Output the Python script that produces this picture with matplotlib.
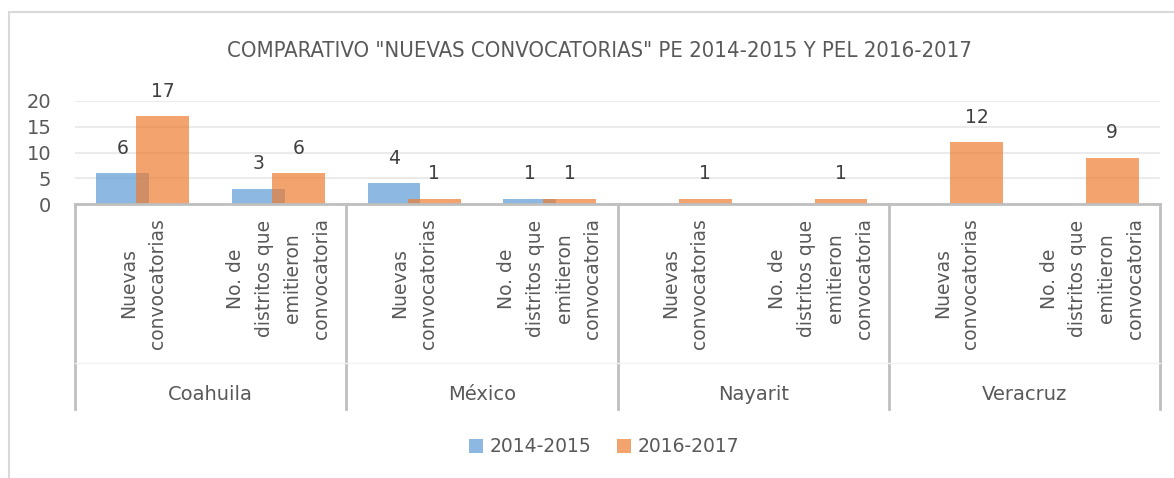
"""Comparativo nuevas convocatorias PE 2014-2015 y PEL 2016-2017"""

import numpy as np
import matplotlib
matplotlib.use("Agg")
import matplotlib.pyplot as plt
from matplotlib.patches import Rectangle, Patch
from matplotlib.lines import Line2D
from matplotlib.transforms import blended_transform_factory

groups = ["Coahuila", "México", "Nayarit", "Veracruz"]
subcats = ["Nuevas\nconvocatorias", "No. de\ndistritos que\nemitieron\nconvocatoria"]
serie_2014 = [6, 3, 4, 1, np.nan, np.nan, np.nan, np.nan]
serie_2016 = [17, 6, 1, 1, 1, 1, 12, 9]
series_names = ["2014-2015", "2016-2017"]
title = 'COMPARATIVO "NUEVAS CONVOCATORIAS" PE 2014-2015 Y PEL 2016-2017'

BLUE = "#5B9BD5"
ORANGE = "#ED7D31"
GRAY = "#595959"
LINE = "#BFBFBF"


def main():
    plt.rcParams["font.family"] = ["DejaVu Sans"]
    fig = plt.figure(figsize=(11.74, 4.78), dpi=100)
    W, H = 1174, 478

    def fx(px):
        return px / W

    def fy(py):
        return 1 - py / H

    ax = fig.add_axes([fx(75), fy(204), fx(1160) - fx(75), fy(101) - fy(204)])

    n = len(groups) * len(subcats)
    x = np.arange(n)
    width = 0.39
    off = 0.148
    b1 = ax.bar(x - off, serie_2014, width, color=BLUE, alpha=0.7, zorder=3)
    b2 = ax.bar(x + off, serie_2016, width, color=ORANGE, alpha=0.7, zorder=4)

    for bars, vals in ((b1, serie_2014), (b2, serie_2016)):
        for rect, v in zip(bars, vals):
            if np.isnan(v):
                continue
            ax.annotate(f"{int(v)}", (rect.get_x() + rect.get_width() / 2, v),
                        xytext=(0, 18), textcoords="offset points",
                        ha="center", va="center", fontsize=13.5, color="#404040")

    ax.set_xlim(-0.5, n - 0.5)
    ax.set_ylim(0, 20)
    ax.set_yticks([0, 5, 10, 15, 20])
    ax.tick_params(axis="y", length=0, pad=17, labelsize=14, labelcolor=GRAY)
    ax.set_xticks([])
    for s in ["top", "right", "left"]:
        ax.spines[s].set_visible(False)
    ax.spines["bottom"].set_color(LINE)
    ax.spines["bottom"].set_linewidth(2)
    ax.spines["bottom"].set_zorder(5)
    ax.yaxis.grid(True, color="#EBEBEB", linewidth=1.5, zorder=0)
    ax.set_axisbelow(True)

    # multi-level category axis
    tr = blended_transform_factory(ax.transData, fig.transFigure)
    for b in np.arange(-0.5, n, 2):
        ax.add_line(Line2D([b, b], [fy(204), fy(409)], transform=tr,
                           color=LINE, linewidth=2, clip_on=False))
    ax.add_line(Line2D([-0.5, n - 0.5], [fy(363), fy(363)], transform=tr,
                       color="#F2F2F2", linewidth=1, clip_on=False))
    for i in range(n):
        ax.text(i, fy(218), subcats[i % 2], transform=tr, rotation=90,
                ha="center", va="top", multialignment="center",
                linespacing=1.65, fontsize=13.5, color=GRAY)
    for g, name in enumerate(groups):
        ax.text(2 * g + 0.5, fy(394), name, transform=tr, ha="center",
                va="center", fontsize=14, color=GRAY)

    fig.text(fx(599.5), fy(51), title, ha="center", va="center", fontsize=15.8,
             color=GRAY, family=["Liberation Sans Narrow", "DejaVu Sans"],
             fontstretch="condensed")

    handles = [Patch(facecolor=BLUE, alpha=0.7), Patch(facecolor=ORANGE, alpha=0.7)]
    leg = fig.legend(handles, series_names, loc="center", bbox_to_anchor=(0.5145, fy(447)),
                     ncol=2, frameon=False, fontsize=13.5, handlelength=0.75,
                     handleheight=0.75, handletextpad=0.35, columnspacing=1.4)
    for t in leg.get_texts():
        t.set_color(GRAY)

    # chart border
    fig.patches.append(Rectangle((fx(9), -0.1), 1.2, fy(12) + 0.1,
                                 transform=fig.transFigure, fill=False,
                                 edgecolor="#D9D9D9", linewidth=1.5))

    fig.savefig("out.png", dpi=100)


main()
